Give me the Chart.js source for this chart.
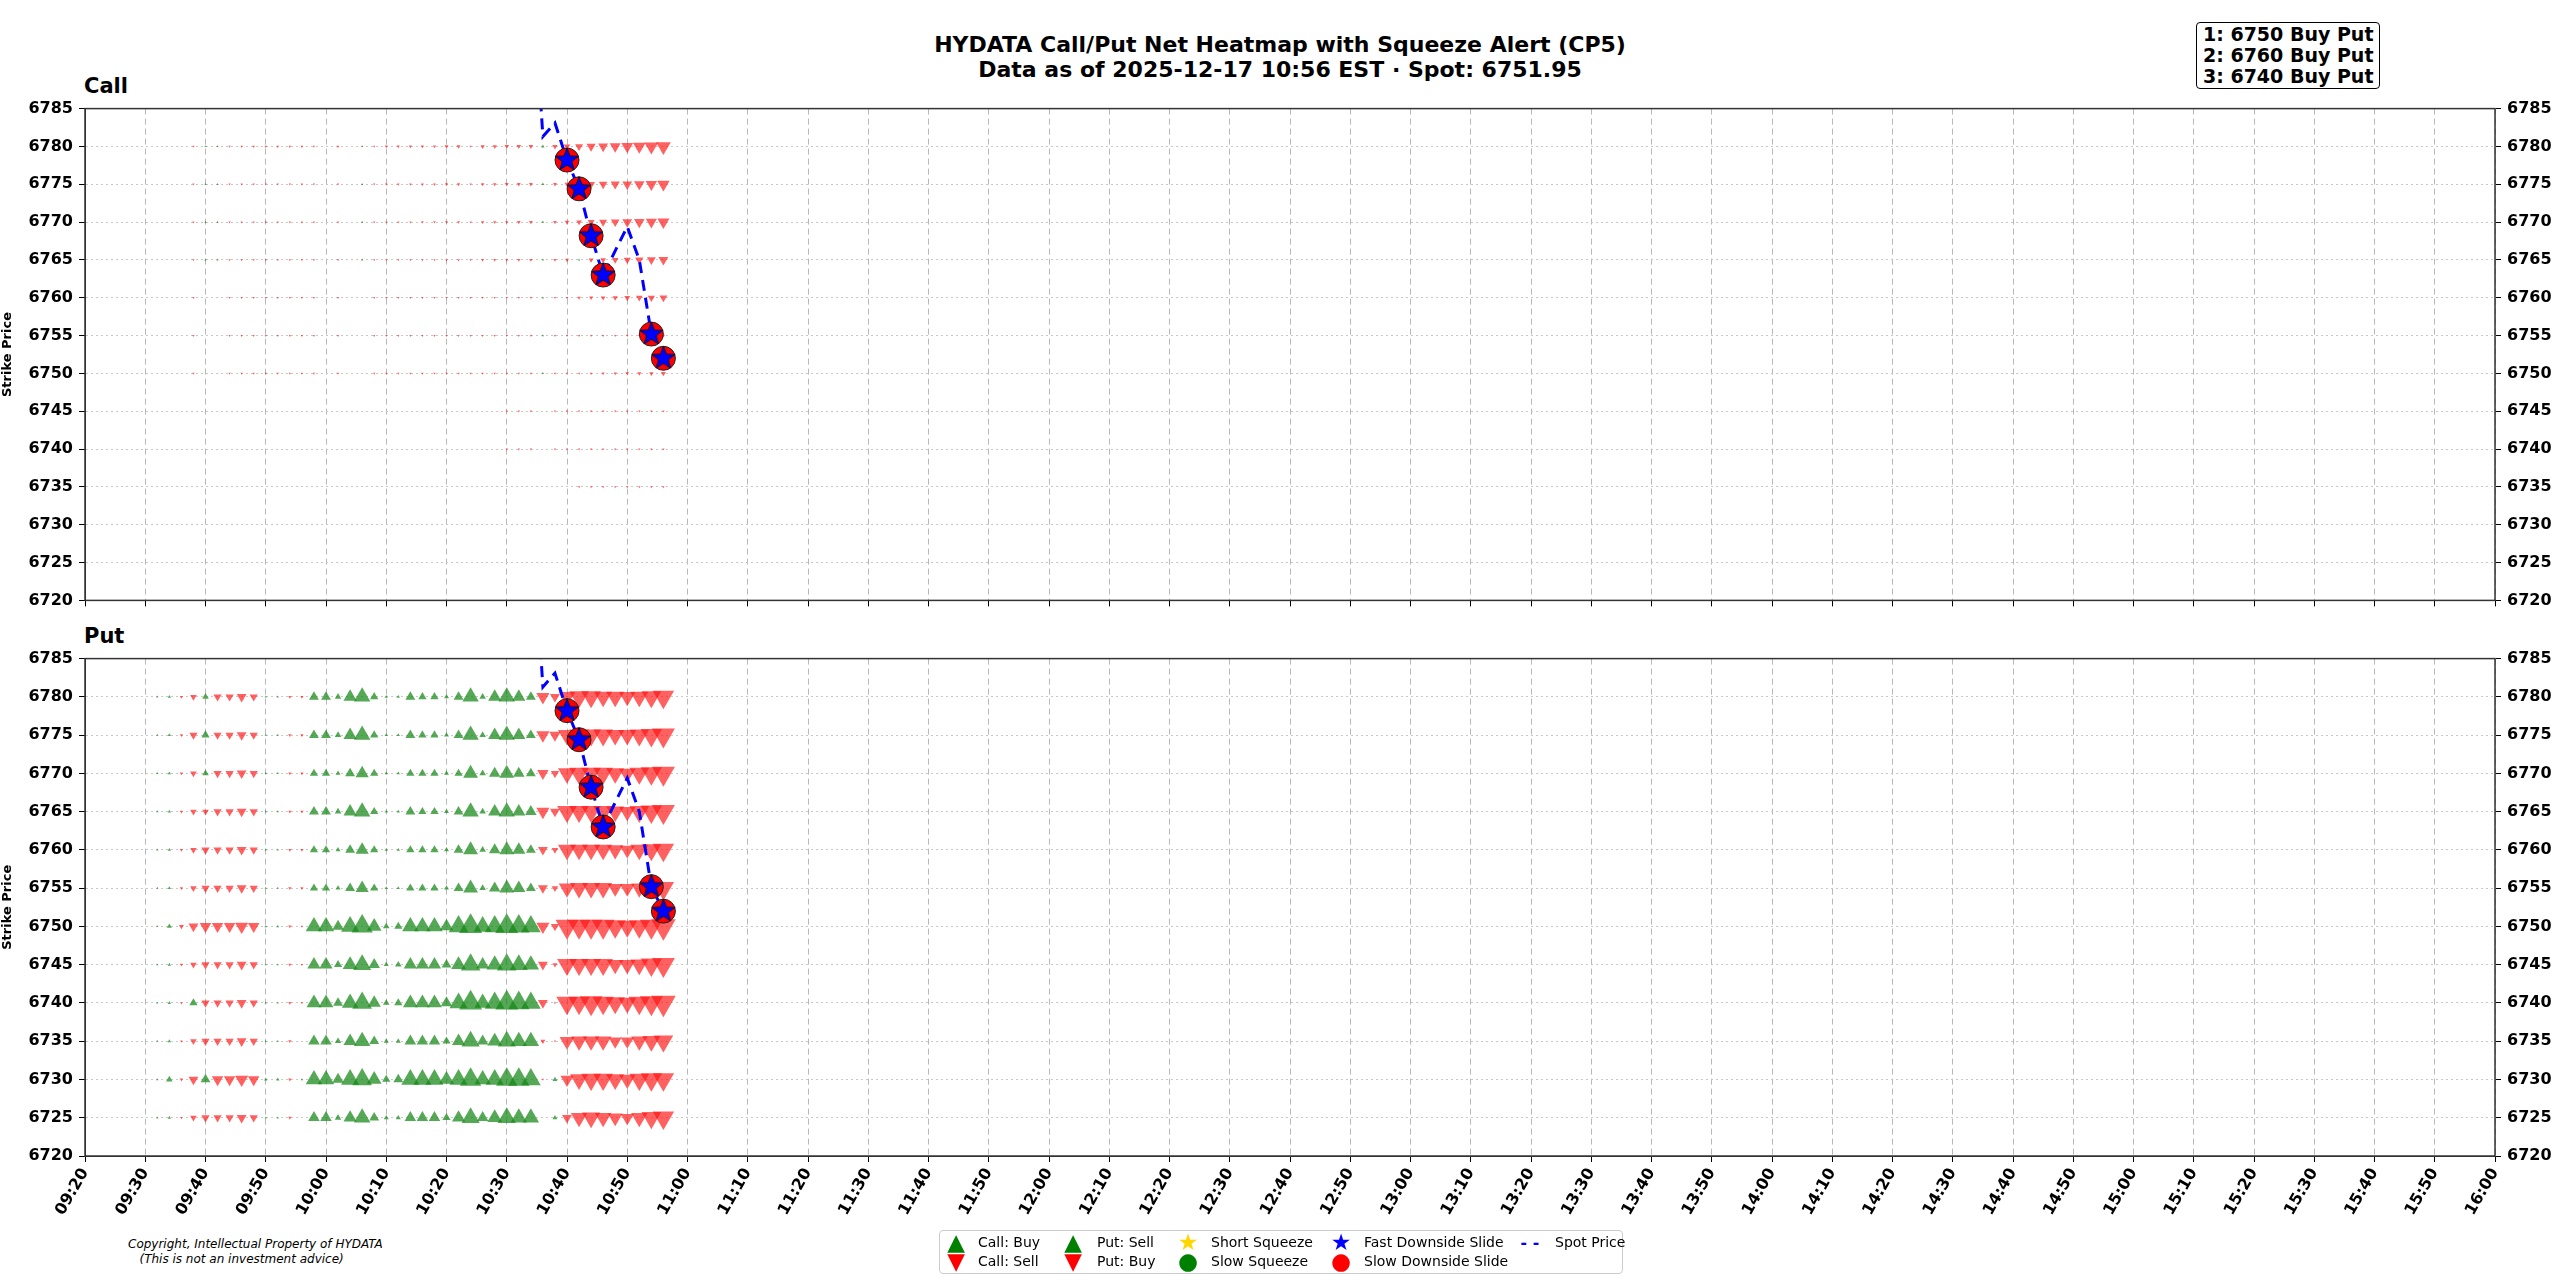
<!DOCTYPE html>
<html>
<head>
<meta charset="utf-8">
<script src="https://cdn.jsdelivr.net/npm/chart.js@4/dist/chart.umd.min.js"></script>
<style>
  body { margin: 0; background: #fff; font-family: "DejaVu Sans", sans-serif; }
  #wrap { position: relative; width: 2560px; height: 1280px; overflow: hidden; }
  .abs { position: absolute; }
  #title { left: 0; width: 2560px; top: 32px; text-align: center; font-weight: bold; font-size: 22px; line-height: 25px; }
  .panel { font-weight: bold; font-size: 21px; }
  #alerts { left: 2196px; top: 22px; border: 1.5px solid #000; border-radius: 4px; padding: 1px 6px; font-weight: bold; font-size: 19px; line-height: 21px; }
  #copy { left: 128px; top: 1237px; font-style: italic; font-size: 12px; line-height: 15px; }
  #legend { left: 939px; top: 1230px; width: 682px; height: 42px; border: 1px solid #ccc; border-radius: 4px; font-size: 14px; }
  .li { position: absolute; white-space: nowrap; height: 19px; line-height: 19px; }
  .g { position: absolute; width: 24px; margin-left: -12px; text-align: center; font-size: 23px; }
  .t { position: absolute; }
</style>
</head>
<body>
<div id="wrap">
  <div id="title" class="abs">HYDATA Call/Put Net Heatmap with Squeeze Alert (CP5)<br>Data as of 2025-12-17 10:56 EST · Spot: 6751.95</div>
  <div id="alerts" class="abs">1: 6750 Buy Put<br>2: 6760 Buy Put<br>3: 6740 Buy Put</div>
  <div class="abs panel" style="left:84px;top:74px">Call</div>
  <div class="abs panel" style="left:84px;top:624px">Put</div>
  <div class="abs" style="left:0;top:93px;width:2560px;height:523px"><canvas id="callChart"></canvas></div>
  <div class="abs" style="left:0;top:643px;width:2560px;height:593px"><canvas id="putChart"></canvas></div>
  <div id="copy" class="abs">Copyright, Intellectual Property of HYDATA<br>&nbsp;&nbsp;&nbsp;(This is not an investment advice)</div>
  <div id="legend" class="abs">
    <div class="li" style="left:0;top:2px"><span class="g" style="left:16px;color:green">▲</span><span class="t" style="left:38px">Call: Buy</span></div>
    <div class="li" style="left:0;top:21px"><span class="g" style="left:16px;color:red">▼</span><span class="t" style="left:38px">Call: Sell</span></div>
    <div class="li" style="left:0;top:2px"><span class="g" style="left:133px;color:green">▲</span><span class="t" style="left:157px">Put: Sell</span></div>
    <div class="li" style="left:0;top:21px"><span class="g" style="left:133px;color:red">▼</span><span class="t" style="left:157px">Put: Buy</span></div>
    <div class="li" style="left:0;top:2px"><span class="g" style="left:248px;color:gold">★</span><span class="t" style="left:271px">Short Squeeze</span></div>
    <div class="li" style="left:0;top:21px"><span class="g" style="left:248px;color:green">●</span><span class="t" style="left:271px">Slow Squeeze</span></div>
    <div class="li" style="left:0;top:2px"><span class="g" style="left:401px;color:blue">★</span><span class="t" style="left:424px">Fast Downside Slide</span></div>
    <div class="li" style="left:0;top:21px"><span class="g" style="left:401px;color:red">●</span><span class="t" style="left:424px">Slow Downside Slide</span></div>
    <div class="li" style="left:0;top:2px"><span class="g" style="left:590px;color:blue;font-weight:bold;font-size:16px">- -</span><span class="t" style="left:615px">Spot Price</span></div>
  </div>
</div>
<script>
const tickLabels = ['09:20','09:30','09:40','09:50','10:00','10:10','10:20','10:30','10:40','10:50',
  '11:00','11:10','11:20','11:30','11:40','11:50','12:00','12:10','12:20','12:30','12:40','12:50',
  '13:00','13:10','13:20','13:30','13:40','13:50','14:00','14:10','14:20','14:30','14:40','14:50',
  '15:00','15:10','15:20','15:30','15:40','15:50','16:00'];

const times = ['09:32','09:34','09:36','09:38','09:40','09:42','09:44','09:46','09:48','09:50',
  '09:52','09:54','09:56','09:58','10:00','10:02','10:04','10:06','10:08','10:10',
  '10:12','10:14','10:16','10:18','10:20','10:22','10:24','10:26','10:28','10:30',
  '10:32','10:34','10:36','10:38','10:40','10:42','10:44','10:46','10:48','10:50',
  '10:52','10:54','10:56'];

// net flow per strike (positive = green up, negative = red down)
const callStrikes = [6780, 6775, 6770, 6765, 6760, 6755, 6750, 6745, 6740, 6735];
const callRows = [
  [0,0,0,-0.6,0.5,0.5,-0.7,-0.7,-0.8,-0.8,-0.8,-0.8,-0.8,-0.5,0,-0.8,0,0.4,-0.5,-0.9,-0.9,-1,-1,-1,-1.2,-1.2,-0.5,-1.3,-1.3,-1.4,-1.4,-1.4,1,-1.6,-2,-2.4,-2.8,-3,-3.3,-3.6,-3.9,-4.2,-4.5],
  [0,0,0,-0.4,0.4,0.4,-0.6,-0.6,-0.6,-0.7,-0.6,-0.6,-0.6,-0.4,0,-0.6,0,0.3,-0.5,-0.8,-0.8,-0.8,-0.9,-0.9,-1,-1,-0.4,-1.1,-1.1,-1.2,-1.2,-1.2,0.9,-1.2,-1.5,-1.8,-2.4,-2.6,-2.8,-3,-3.2,-3.5,-3.8],
  [0,0,0,-0.3,0.3,0.3,-0.5,-0.5,-0.5,-0.5,-0.5,-0.5,-0.5,-0.3,0,-0.5,0,0.3,-0.4,-0.7,-0.7,-0.7,-0.8,-0.8,-0.9,-0.9,-0.3,-1,-1,-1,-1.1,-1.1,0.8,-1.1,-1.4,-1.7,-2.1,-2.4,-2.6,-3,-3.2,-3.4,-3.7],
  [0,0,0,-0.3,0.4,0.4,-0.4,-0.5,-0.5,-0.5,-0.5,-0.5,-0.5,-0.3,0,-0.5,0,0.3,-0.4,-0.6,-0.6,-0.6,-0.7,-0.7,-0.8,-0.8,-0.3,-0.9,-0.9,-0.9,-1,-1,0.7,-1,-1.2,0.6,-1.5,-1.7,-2,-2.2,-2.5,-2.7,-3],
  [0,0,0,-0.2,0,0,-0.2,-0.2,-0.3,-0.3,-0.3,-0.3,-0.3,-0.2,0,-0.3,0,0,-0.3,-0.3,-0.3,-0.4,-0.4,-0.4,-0.4,-0.5,-0.2,-0.5,-0.5,-0.5,-0.5,-0.6,0.4,-0.6,-0.8,-1,-1.2,-1.4,-1.6,-1.8,-2,-2.2,-2.4],
  [0,0,0,-0.2,0,0,-0.2,-0.2,-0.2,-0.2,-0.2,-0.2,-0.2,-0.2,0,-0.2,0,0,-0.2,-0.2,-0.2,-0.3,-0.3,-0.3,-0.3,-0.3,-0.2,-0.3,-0.3,-0.3,-0.4,-0.4,0.3,-0.4,-0.5,-0.5,-0.6,-0.7,-0.7,-0.8,-0.8,-0.9,-1],
  [0,0,0,-0.2,0,0,-0.2,-0.2,-0.2,-0.2,-0.2,-0.2,-0.2,-0.2,0,-0.2,0,0,-0.2,-0.3,-0.3,-0.3,-0.3,-0.3,-0.3,-0.4,-0.2,-0.4,-0.4,-0.4,-0.4,-0.5,0.3,-0.5,-0.6,-0.7,-0.8,-0.9,-1,-1.1,-1.2,-1.3,-1.5],
  [0,0,0,0,0,0,0,0,0,0,0,0,0,0,0,0,0,0,0,0,0,0,0,0,0,0,0,0,0,-0.2,-0.2,-0.2,0,-0.3,-0.3,-0.5,-0.5,-0.6,-0.6,-0.6,-0.7,-0.7,-0.7],
  [0,0,0,0,0,0,0,0,0,0,0,0,0,0,0,0,0,0,0,0,0,0,0,0,0,0,0,0,0,-0.2,-0.2,-0.2,0,-0.3,-0.3,-0.5,-0.5,-0.6,-0.6,-0.6,-0.7,-0.7,-0.7],
  [0,0,0,0,0,0,0,0,0,0,0,0,0,0,0,0,0,0,0,0,0,0,0,0,0,0,0,0,0,0,0,0,0,0,0,-0.2,-0.2,-0.2,-0.2,-0.2,-0.2,-0.2,-0.2]
];

const putStrikes = [6780, 6775, 6770, 6765, 6760, 6755, 6750, 6745, 6740, 6735, 6730, 6725];
const putRows = [
  [0.5,1,-1,-2,2,-2.5,-2.5,-3,-2.5,0.5,0.5,-1,-1,3,3,2,4,5,2.5,1,1,3,2.5,2.5,1.5,3,5,2,4,5,4,3,-4,-3,-5,-6,-6,-5.5,-5.5,-5,-5.5,-6,-6.5],
  [0.5,1,-1,-2.5,2.5,-2.5,-2.5,-3,-2.5,0.5,0.5,-1,-1,3,3,2,4,5,2.5,1,1,3,2.5,2.5,1.5,3,5,2,4,5,4,3,-4,-3.5,-5.5,-6,-6,-6,-5.5,-5.5,-6,-6.5,-7],
  [0.5,1,-1,-2,2,-2.5,-2.5,-3,-2.5,0.5,0.5,-1,-1,2.5,2.5,1.5,3,4,2.5,1,1,2.5,2.5,2.5,1.5,2.5,4.5,2,3.5,4.5,3.5,3,-3.5,-2.5,-5.5,-6,-6,-6,-5.5,-5,-6,-6.5,-7],
  [0.5,1,-1,-2,-2,-2.5,-2.5,-3,-2.5,0.5,0.5,-1,-1,3,3,2,4,5,2.5,1,1,3,2.5,2.5,1.5,3,5,2,4,5,4,3.5,-4,-3,-6,-6,-6,-6,-5.5,-5,-6,-6.5,-7],
  [0.5,1,-1,-2,-2.5,-2.5,-2.5,-3,-2.5,0.5,0.5,-1,-1,2.5,2.5,1.5,3,4,2.5,1,1,2.5,2.5,2.5,1.5,3,4.5,2,3.5,4.5,4,3,-3,-2,-5.5,-5.5,-5.5,-5.5,-5,-4.5,-5.5,-6,-6.5],
  [0.5,1,-1,-2,-2.5,-2.5,-2.5,-3,-2.5,0.5,0.5,-1,-1,2.5,2.5,1.5,3,4,2.5,1,1,2.5,2.5,2.5,1.5,3,4.5,2,3.5,4.5,4,3,-3,-2,-5,-5.5,-5.5,-5.5,-4.5,-4.5,-5,-5.5,-6.5],
  [0.5,1.5,-1.5,-3,-3.5,-3.5,-3.5,-4,-3.5,0.8,0.8,-1,-0.5,5,5,3.5,5.5,6.5,4.5,2,2.5,5,5,5,4,6,7,5.5,6,7,6.5,6,-4,-2.5,-7,-7,-7,-7,-6.5,-6,-6.5,-7,-7.5],
  [0.5,1,-1,-2,-2.5,-2.5,-2.5,-3,-2.5,0.5,0.5,-1,-0.5,4,4,2.5,4.5,5.5,3.5,1.5,2,4,4,4,3,4.5,6,4,5,6,5.5,5,-3,-1.5,-6,-6,-6,-6,-5,-5,-5.5,-6.5,-7],
  [0.5,1,-0.8,2.5,-2.5,-2.5,-2.5,-3,-2.5,0.5,0.5,-1,-0.5,4.5,4.5,3,5,6,4,2,2.5,4.5,4.5,4.5,3.5,5.5,7,5,6,7,6.5,6,-3,-0.3,-6.5,-6.5,-7,-6.5,-6,-5.5,-6.5,-7,-7.5],
  [0.5,1,-0.8,-2,-2.5,-2.5,-2.5,-3,-2.5,0.5,0.5,-1,0,3.5,3.5,2,4,5,3,1.5,1.5,3.5,3.5,3.5,2.5,4,5.5,3.5,4.5,5.5,5,5,-1.5,-0.5,-4.5,-5,-5,-5,-4,-4,-5,-5.5,-6],
  [0.5,2,-1,-3,3,-3.5,-3.5,-4,-3.5,1,1,-1,0.5,5,5,3.5,5.5,6,4.5,2.5,3,5.5,5.5,5.5,4.5,5.5,6.5,5,5.5,6.5,6.5,6,-0.5,1.5,-4,-5.5,-6,-6,-5.5,-5,-6,-6.5,-6.5],
  [0.5,1,-0.8,-2,-2.5,-2.5,-2.5,-3,-2.5,0.5,0.5,-1,0,3.5,3.5,2,4,5,3,1.5,1.5,3.5,3.5,3.5,2.5,4,5.5,3.5,4.5,5.5,5,5,0,1.5,-3,-5,-5.5,-5,-4.5,-4,-5,-6,-6.5]
];

const spotTimes = ['10:32','10:34','10:36','10:38','10:40','10:42','10:44','10:46','10:48','10:50','10:52','10:54','10:56'];
const spotPrices = [6812, 6806, 6781.3, 6783.1, 6778.2, 6774.4, 6768.2, 6763.0, 6766.2, 6769.4, 6765.0, 6755.2, 6752.0];

const alertTimes = ['10:40','10:42','10:44','10:46','10:54','10:56'];
const alertPrices = [6778.2, 6774.4, 6768.2, 6763.0, 6755.2, 6752.0];

function toMin(t) {
  const [h, m] = t.split(':').map(Number);
  return h * 60 + m - 560;
}

function makeStar(r) {
  const c = document.createElement('canvas');
  c.width = c.height = r * 2 + 4;
  const g = c.getContext('2d');
  g.translate(r + 2, r + 2);
  g.beginPath();
  for (let i = 0; i < 10; i++) {
    const rad = i % 2 === 0 ? r : r * 0.42;
    const a = -Math.PI / 2 + i * Math.PI / 5;
    g.lineTo(rad * Math.cos(a), rad * Math.sin(a));
  }
  g.closePath();
  g.fillStyle = '#0000ff';
  g.fill();
  g.strokeStyle = '#000033';
  g.lineWidth = 1;
  g.stroke();
  return c;
}
const starImg = makeStar(12);

const frame = {
  id: 'frame',
  afterDraw(chart) {
    const a = chart.chartArea, g = chart.ctx;
    g.save();
    g.strokeStyle = '#333';
    g.lineWidth = 1.5;
    g.strokeRect(a.left, a.top, a.right - a.left, a.bottom - a.top);
    g.restore();
  }
};

function buildFlow(strikes, rows) {
  const up = [], down = [];
  rows.forEach((row, i) => {
    row.forEach((v, k) => {
      if (!v) return;
      const p = { x: toMin(times[k]), y: strikes[i], r: Math.max(1.3, Math.abs(v) * 1.9) };
      (v > 0 ? up : down).push(p);
    });
  });
  return { up, down };
}

function makeChart(id, strikes, rows, showX) {
  const flow = buildFlow(strikes, rows);
  const spot = spotTimes.map((t, i) => ({ x: toMin(t), y: spotPrices[i] }));
  const alerts = alertTimes.map((t, i) => ({ x: toMin(t), y: alertPrices[i] }));
  const tickFont = { family: 'DejaVu Sans', size: 16, weight: 'bold' };
  const yTicks = { stepSize: 5, color: '#000', font: tickFont, padding: 6, callback: v => String(v) };

  new Chart(document.getElementById(id), {
    type: 'scatter',
    data: {
      datasets: [
        { order: 4, data: flow.up, pointStyle: 'triangle', rotation: 0, backgroundColor: 'rgba(20,135,20,0.72)', borderWidth: 0,
          pointRadius: c => c.raw ? c.raw.r : 0 },
        { order: 3, data: flow.down, pointStyle: 'triangle', rotation: 180, backgroundColor: 'rgba(255,20,20,0.68)', borderWidth: 0,
          pointRadius: c => c.raw ? c.raw.r : 0 },
        { order: 2, type: 'line', data: spot, borderColor: '#0000ff', borderWidth: 3, borderDash: [11, 7], pointRadius: 0, fill: false, tension: 0 },
        { order: 1, data: alerts, pointStyle: 'circle', pointRadius: 12, backgroundColor: '#ff0000', borderColor: '#222', borderWidth: 1 },
        { order: 0, data: alerts, pointStyle: starImg, pointRadius: 12 }
      ]
    },
    options: {
      responsive: true,
      maintainAspectRatio: false,
      animation: false,
      events: [],
      layout: { padding: { top: 10, left: 0, right: 0, bottom: 0 } },
      plugins: { legend: { display: false }, tooltip: { enabled: false } },
      scales: {
        x: {
          type: 'linear', min: 0, max: 400,
          afterFit: s => { s.height = showX ? 80 : 10; },
          grid: { color: '#b8b8b8', lineWidth: 1, tickLength: 6, tickColor: '#000' },
          border: { dash: [6, 4], color: '#333' },
          ticks: {
            stepSize: 10, autoSkip: false, maxRotation: 60, minRotation: 60, color: '#000', font: tickFont,
            display: showX,
            callback: v => tickLabels[Math.round(v / 10)]
          }
        },
        y: {
          min: 6720, max: 6785,
          afterFit: s => { s.width = 85; },
          grid: { color: '#c8c8c8', lineWidth: 1, tickColor: '#000', tickLength: 6 },
          border: { dash: [2, 3], color: '#333' },
          ticks: yTicks,
          title: { display: true, text: 'Strike Price', color: '#000', font: { family: 'DejaVu Sans', size: 13, weight: 'bold' }, padding: 0 }
        },
        y2: {
          position: 'right', min: 6720, max: 6785,
          afterFit: s => { s.width = 65; },
          grid: { drawOnChartArea: false, tickColor: '#000', tickLength: 6 },
          ticks: yTicks
        }
      }
    },
    plugins: [frame]
  });
}

makeChart('callChart', callStrikes, callRows, false);
makeChart('putChart', putStrikes, putRows, true);
</script>
</body>
</html>
